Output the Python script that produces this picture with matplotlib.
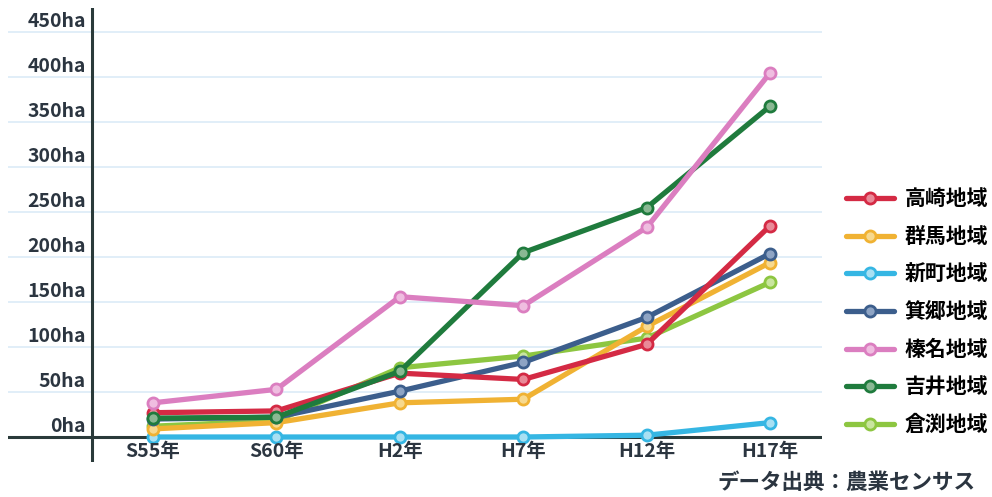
import matplotlib.pyplot as plt

plt.rcParams['font.family'] = ['Noto Sans CJK JP', 'DejaVu Sans']

years = ['S55年', 'S60年', 'H2年', 'H7年', 'H12年', 'H17年']
yticks = [0, 50, 100, 150, 200, 250, 300, 350, 400, 450]

areas = ['高崎地域', '群馬地域', '新町地域', '箕郷地域', '榛名地域', '吉井地域', '倉渕地域']
takasaki = [27, 29, 71, 64, 103, 235]
gunma = [9, 16, 38, 42, 123, 194]
shinmachi = [0, 0, 0, 0, 2, 16]
misato = [20, 22, 51, 83, 133, 204]
haruna = [38, 53, 156, 146, 233, 405]
yoshii = [21, 22, 73, 205, 255, 368]
kurabuchi = [12, 18, 77, 90, 110, 172]

series = [takasaki, gunma, shinmachi, misato, haruna, yoshii, kurabuchi]
colors = ['#d42a44', '#f0b233', '#35b6e3', '#3c5e8c', '#db7ec0', '#1f7b3d', '#8dc641']
faces = ['#e98a98', '#f7d98f', '#a8e0f3', '#8ea4c4', '#efbde0', '#8ab893', '#c9e59f']
zorders = [6, 4, 3, 5, 7, 6, 3]

fig = plt.figure(figsize=(9.92, 4.97), dpi=100)
ax = fig.add_axes([8 / 992, 35 / 497, 814 / 992, 454 / 497])

x = list(range(len(years)))
for vals, name, c, fc, z in zip(series, areas, colors, faces, zorders):
    ax.plot(x, vals, color=c, lw=3.8, marker='o', ms=8, mfc=fc, mec=c, mew=2,
            label=name, zorder=z, solid_capstyle='round')

ax.set_xlim(-1.175, 5.42)
ax.set_ylim(-27.8, 477)

for s in ax.spines.values():
    s.set_visible(False)
ax.set_xticks([])
ax.set_yticks([])

# light grid + dark axis lines that cross each other
for v in yticks[1:]:
    ax.axhline(v, color='#dcebf7', lw=1.2, zorder=0)
ax.axhline(0, color='#2a3a3a', lw=2.2, zorder=2)
ax.axvline(-0.494, color='#2a3a3a', lw=2.2, zorder=2)

for v in yticks:
    ax.text(-0.545, v + 1, f'{v}ha', ha='right', va='bottom', fontsize=14,
            fontweight='bold', color='#2b3540')

for i, lab in enumerate(years):
    ax.text(i, -6, lab, ha='center', va='top', fontsize=14,
            fontweight='bold', color='#2b3540')

ax.legend(loc='upper left', bbox_to_anchor=(838 / 992, 1 - 180 / 497),
          bbox_transform=fig.transFigure, frameon=False,
          handlelength=2.3, labelspacing=0.8, handletextpad=0.5,
          borderaxespad=0, prop={'weight': 'bold', 'size': 15})

fig.text(975 / 992, 1 - 482 / 497, 'データ出典：農業センサス', ha='right', va='center',
         fontsize=15.5, fontweight='bold', color='#2b3540')

fig.savefig('out.png', dpi=100)
